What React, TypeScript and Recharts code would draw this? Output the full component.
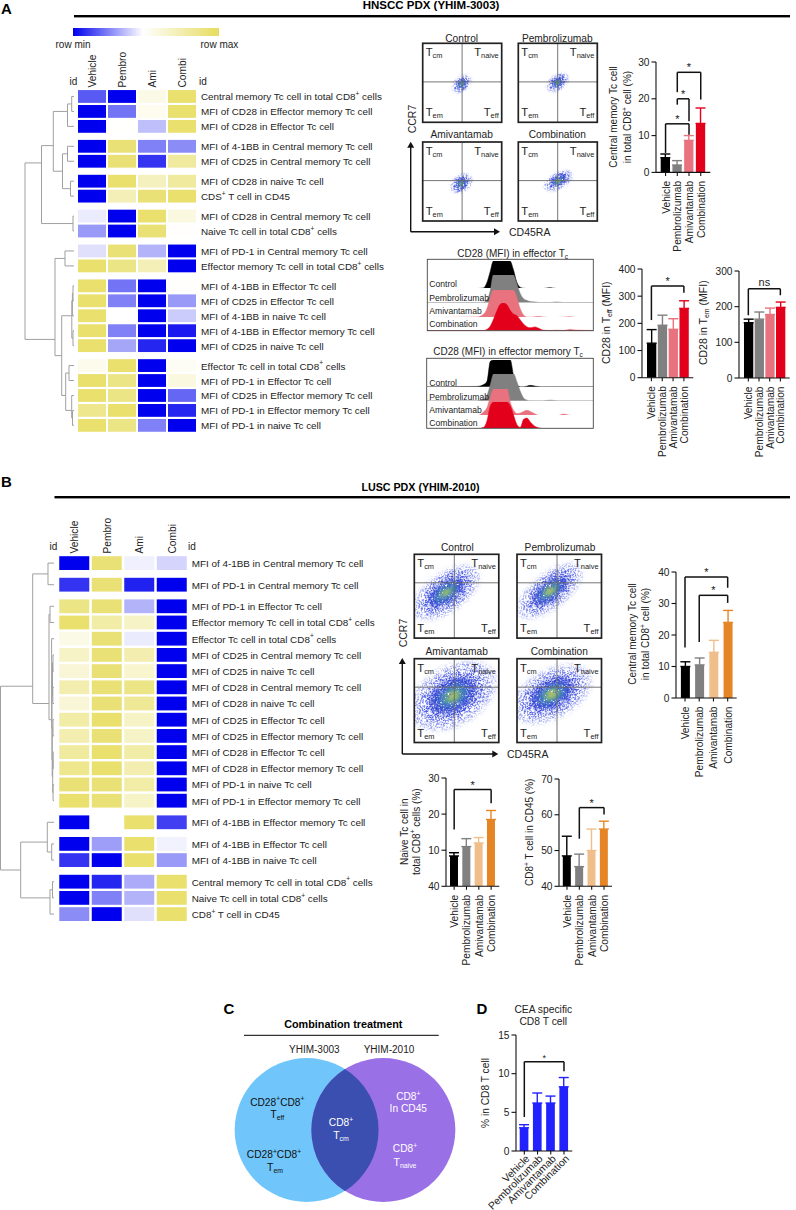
import React from "react"
import {
  Area,
  AreaChart,
  Bar,
  BarChart,
  ErrorBar,
  ReferenceLine,
  Scatter,
  ScatterChart,
  XAxis,
  YAxis,
} from "recharts"

const FONT = "'Liberation Sans', Arial, sans-serif"
const INK = "#222"

// heatmap A
const heatColumns = ["Vehicle", "Pembro", "Ami", "Combi"]
const rowsA = [
  "Central memory Tc cell in total CD8^{+} cells",
  "MFI of CD28 in Effector memory Tc cell",
  "MFI of CD28 in Effector Tc cell",
  "MFI of 4-1BB in Central memory Tc cell",
  "MFI of CD25 in Central memory Tc cell",
  "MFI of CD28 in naive Tc cell",
  "CDS^{+} T cell in CD45",
  "MFI of CD28 in Central memory Tc cell",
  "Naive Tc cell in total CD8^{+} cells",
  "MFI of PD-1 in Central memory Tc cell",
  "Effector memory Tc cell in total CD8^{+} cells",
  "MFI of 4-1BB in Effector Tc cell",
  "MFI of CD25 in Effector Tc cell",
  "MFI of 4-1BB in naive Tc cell",
  "MFI of 4-1BB in Effector memory Tc cell",
  "MFI of CD25 in naive Tc cell",
  "Effector Tc cell in total CD8^{+} cells",
  "MFI of PD-1 in Effector Tc cell",
  "MFI of CD25 in Effector memory Tc cell",
  "MFI of PD-1 in Effector memory Tc cell",
  "MFI of PD-1 in naive Tc cell",
]
const groupSizesA = [3, 2, 2, 2, 2, 5, 5]
const heatA = [
  [-0.65, -1, 0.15, 0.9],
  [-1, -0.55, 0.1, 0.9],
  [-1, 0.01, -0.25, 0.9],
  [-1, 0.85, -0.5, -0.45],
  [-1, 0.85, -0.8, 0.6],
  [-1, 0.9, 0.4, 0.6],
  [-1, 0.45, 0.85, 0.9],
  [-0.08, -1, 0.9, 0.2],
  [-0.4, -1, 0.85, 0.02],
  [-0.12, 0.85, -0.3, -1],
  [0.9, 0.75, 0.45, -1],
  [0.9, -0.55, -1, 0.02],
  [0.9, -0.5, -1, -0.4],
  [0.9, 0, -1, -0.2],
  [0.9, -0.5, -1, -0.9],
  [0.9, -0.35, -0.85, -1],
  [0.12, 0.9, -1, 0.06],
  [0.9, 0.75, -1, 0.2],
  [0.9, 0.75, -1, -0.6],
  [0.7, 0.9, -1, -0.85],
  [0.9, 0.75, -0.5, -1],
]

// heatmap B
const rowsB = [
  "MFI of 4-1BB in Central memory Tc cell",
  "MFI of PD-1 in Central memory Tc cell",
  "MFI of PD-1 in Effector Tc cell",
  "Effector memory Tc cell in total CD8^{+} cells",
  "Effector Tc cell in total CD8^{+} cells",
  "MFI of CD25 in Central memory Tc cell",
  "MFI of CD25 in naive Tc cell",
  "MFI of CD28 in Central memory Tc cell",
  "MFI of CD28 in naive Tc cell",
  "MFI of CD25 in Effector Tc cell",
  "MFI of CD25 in Effector memory Tc cell",
  "MFI of CD28 in Effector Tc cell",
  "MFI of CD28 in Effector memory Tc cell",
  "MFI of PD-1 in naive Tc cell",
  "MFI of PD-1 in Effector memory Tc cell",
  "MFI of 4-1BB in Effector memory Tc cell",
  "MFI of 4-1BB in Effector Tc cell",
  "MFI of 4-1BB in naive Tc cell",
  "Central memory Tc cell in total CD8^{+} cells",
  "Naive Tc cell in total CD8^{+} cells",
  "CD8^{+} T cell in CD45",
]
const groupSizesB = [1, 1, 13, 1, 2, 3]
const heatB = [
  [-1, 0.85, -0.06, -0.17],
  [-0.8, 0.85, -0.87, -1],
  [0.75, 0.85, -0.3, -1],
  [0.9, 0.55, 0.35, -1],
  [0.15, 0.85, -0.08, -1],
  [0.35, 0.85, 0.5, -1],
  [0.25, 0.85, 0.3, -1],
  [0.5, 0.85, 0.75, -1],
  [0.25, 0.85, 0.65, -1],
  [0.55, 0.9, 0.35, -1],
  [0.5, 0.85, 0.35, -1],
  [0.6, 0.9, 0.55, -1],
  [0.7, 0.9, 0.5, -1],
  [0.85, 0.85, 0.55, -1],
  [0.9, 0.85, 0.35, -1],
  [-1, 0, 0.9, -0.75],
  [-1, -0.38, 0.9, -0.05],
  [-0.8, -1, 0.9, -0.4],
  [-1, -0.85, -0.33, 0.9],
  [-1, -0.5, -0.3, 0.9],
  [-0.45, -1, -0.12, 0.9],
]

// dendrograms: [merge distance, left, right], a number is a row
type Tree = number | [number, Tree, Tree]
const treeA: Tree = [
  49,
  [
    32.5,
    [20.7, [6.5, [2.3, 0, 1], 2], [11.5, [6.5, 3, 4], [3.5, 5, 6]]],
    [1, 7, 8],
  ],
  [
    19,
    [9, 9, 10],
    [
      12.3,
      [2.2, [1.6, [1, 11, 12], 13], [1, 14, 15]],
      [8.3, [5, 16, 17], [2.3, 18, [1.5, 19, 20]]],
    ],
  ],
]
const treeB: Tree = [
  53.5,
  [
    21.3,
    [6, 0, 1],
    [
      5,
      [4, 2, 3],
      [
        2.4,
        4,
        [
          2,
          [1.5, [1, 5, 6], [1.2, 7, 8]],
          [1.8, [1, 9, 10], [1.3, [0.8, 11, 12], [0.9, 13, 14]]],
        ],
      ],
    ],
  ],
  [33.3, [6.7, 15, [2.3, 16, 17]], [4, [1.5, 18, 19], 20]],
]

// bar panels
const arms = ["Vehicle", "Pembrolizumab", "Amivantamab", "Combination"]
const tcmA = [4, 2, 8.7, 13.3]
const tcmErrA = [1, 1.2, 1.3, 4.2]
const teffA = [127, 193, 178, 255]
const teffErrA = [50, 37, 39, 28]
const temA = [155, 165, 178, 198]
const temErrA = [10, 20, 18, 15]
const tcmB = [10, 10.5, 14.5, 24]
const tcmErrB = [1.5, 2.2, 3.8, 3.8]
const naiveB = [8.4, 11, 12, 18.5]
const naiveErrB = [0.9, 2.2, 1.5, 2.5]
const naiveTickLabels = ["40", "10", "20", "30"]
const cd8B = [48.5, 45.5, 50, 56]
const cd8ErrB = [5.5, 3.5, 6, 2.2]
const ceaD = [3, 6.2, 6.2, 8.3]
const ceaErrD = [0.4, 1.3, 0.9, 1.2]

type Bracket = { from: number; to: number; top: number; left: number; right: number; mark: string }
const tcmBracketsA: Bracket[] = [
  { from: 0, to: 2, top: 13.2, left: 5.3, right: 10.2, mark: "*" },
  { from: 1, to: 2, top: 20, left: 18.4, right: 13.9, mark: "*" },
  { from: 1, to: 3, top: 27.2, left: 21.8, right: 19.8, mark: "*" },
]
const teffBracketsA: Bracket[] = [{ from: 0, to: 3, top: 337, left: 212, right: 313, mark: "*" }]
const temBracketsA: Bracket[] = [{ from: 0, to: 3, top: 250, left: 176, right: 232, mark: "ns" }]
const tcmBracketsB: Bracket[] = [
  { from: 0, to: 3, top: 38.4, left: 16, right: 35, mark: "*" },
  { from: 1, to: 3, top: 32.6, left: 17.8, right: 30.2, mark: "*" },
]
const naiveBracketsB: Bracket[] = [{ from: 0, to: 3, top: 26.8, left: 15.7, right: 23, mark: "*" }]
const cd8BracketsB: Bracket[] = [{ from: 1, to: 3, top: 62, left: 53.3, right: 60.1, mark: "*" }]
const ceaBracketsD: Bracket[] = [{ from: 0, to: 3, top: 11.55, left: 4.4, right: 10.3, mark: "*" }]

const redSet = ["#000000", "#808080", "#E8737F", "#E2001A"]
const orangeSet = ["#000000", "#808080", "#F0BE8A", "#E58526"]
const blueSet = ["#2222FF", "#2222FF", "#2222FF", "#2222FF"]

// histogram tracks, one height per ridgeX
const ridgeX = [0, 30, 34, 36, 38, 40, 42, 44, 46, 48, 50, 52, 54, 56, 58, 60, 62, 65, 68, 70, 74, 78, 82, 86, 90, 100]
const teffControl = [0, 0, 0.02, 0.2, 0.6, 1, 1, 1, 1, 1, 1, 0.7, 0.25, 0.05, 0.01, 0, 0, 0, 0, 0, 0.03, 0, 0, 0, 0, 0]
const teffPembro = [0, 0, 0.01, 0.08, 0.4, 1, 1, 1, 1, 1, 1, 1, 0.7, 0.35, 0.15, 0.08, 0.04, 0.02, 0, 0, 0, 0.02, 0, 0, 0, 0]
const teffAmi = [0, 0.02, 0.12, 0.3, 0.7, 1, 1, 1, 1, 1, 1, 1, 0.75, 0.35, 0.1, 0.02, 0.01, 0.03, 0.04, 0.02, 0, 0, 0.01, 0.03, 0, 0]
const teffCombi = [0, 0, 0, 0.04, 0.15, 0.4, 0.7, 0.95, 1, 0.95, 0.75, 0.6, 0.55, 0.4, 0.25, 0.14, 0.1, 0.13, 0.06, 0.01, 0, 0.01, 0, 0.03, 0.01, 0]
const temControl = [0, 0.01, 0.08, 0.2, 0.95, 1, 1, 1, 1, 1, 1, 0.4, 0.05, 0, 0, 0.02, 0.05, 0.02, 0, 0, 0, 0, 0, 0, 0, 0]
const temPembro = [0, 0, 0.05, 0.2, 0.6, 1, 1, 1, 1, 1, 1, 1, 0.7, 0.35, 0.1, 0.02, 0, 0, 0, 0, 0.02, 0, 0, 0, 0, 0]
const temAmi = [0, 0, 0.15, 0.3, 0.7, 1, 1, 1, 1, 1, 0.5, 0.2, 0.08, 0.1, 0.16, 0.2, 0.16, 0.06, 0, 0, 0, 0, 0.06, 0.01, 0, 0]
const temCombi = [0, 0, 0.05, 0.3, 0.85, 1, 1, 1, 1, 1, 0.85, 0.5, 0.15, 0.05, 0.35, 0.4, 0.25, 0.08, 0.02, 0, 0, 0, 0, 0, 0, 0]
const ridgeNames = ["Control", "Pembrolizumab", "Amivantamab", "Combination"]

// flow plots: centre of the population on the plot axes, its spread and tilt
const flowA = [
  { name: "Control", x: 0.49, y: 0.48, sx: 0.115, sy: 0.075, tilt: 40, core: 0.55 },
  { name: "Pembrolizumab", x: 0.5, y: 0.5, sx: 0.13, sy: 0.08, tilt: 35, core: 0.55 },
  { name: "Amivantamab", x: 0.485, y: 0.475, sx: 0.125, sy: 0.09, tilt: 35, core: 0.55 },
  { name: "Combination", x: 0.51, y: 0.51, sx: 0.165, sy: 0.085, tilt: 30, core: 1 },
]
const flowB = [
  { name: "Control", x: 0.38, y: 0.54, sx: 0.38, sy: 0.19, tilt: 35, core: 0.7 },
  { name: "Pembrolizumab", x: 0.39, y: 0.56, sx: 0.38, sy: 0.17, tilt: 38, core: 1 },
  { name: "Amivantamab", x: 0.46, y: 0.56, sx: 0.46, sy: 0.29, tilt: 30, core: 0.75 },
  { name: "Combination", x: 0.41, y: 0.58, sx: 0.42, sy: 0.24, tilt: 28, core: 0.9 },
]

const vennSets = [
  { name: "YHIM-3003", x: -1, y: 0 },
  { name: "YHIM-2010", x: 1, y: 0 },
]
const vennShared = [{ name: "shared", x: 0, y: 0 }]

const rowPositions = (sizes: number[]) => {
  const out: number[] = []
  sizes.forEach((size, g) => {
    for (let i = 0; i < size; i++) out.push(out.length + g / 3)
  })
  return out
}

const heatFill = (v: number) => {
  const to = v < 0 ? [0, 0, 238] : [230, 220, 94]
  const k = Math.abs(v)
  return `rgb(${to.map((c) => Math.round(255 + (c - 255) * k)).join(",")})`
}

const richText = (text: string, size: number) => {
  const parts = text.split(/(\^\{[^}]*\}|_\{[^}]*\})/).filter((p) => p !== "")
  let shift = 0
  return parts.map((part, i) => {
    const sup = part.startsWith("^{")
    const sub = part.startsWith("_{")
    const target = sup ? -0.33 * size : sub ? 0.28 * size : 0
    const dy = target - shift
    shift = target
    const body = sup || sub ? part.slice(2, -1) : part
    return (
      <tspan key={i} dy={dy} fontSize={sup || sub ? size * 0.66 : size}>
        {body}
      </tspan>
    )
  })
}

type TProps = {
  x: number
  y: number
  text: string
  size?: number
  anchor?: "start" | "middle" | "end"
  bold?: boolean
  fill?: string
  rotate?: number
}
const T = ({ x, y, text, size = 10, anchor = "start", bold, fill = INK, rotate }: TProps) => (
  <text
    x={x}
    y={y}
    fontSize={size}
    fontWeight={bold ? 700 : 400}
    fill={fill}
    textAnchor={anchor}
    dominantBaseline="central"
    transform={rotate ? `rotate(${rotate} ${x} ${y})` : undefined}
  >
    {richText(text, size)}
  </text>
)

const Place = ({ x, y, children }: { x: number; y: number; children: React.ReactNode }) => (
  <div style={{ position: "absolute", left: x, top: y }}>{children}</div>
)

type HeatProps = {
  left: number
  top: number
  pitchX: number
  pitchY: number
  cellW: number
  cellH: number
  labelW: number
  headH: number
  labelGap: number
  rows: string[]
  sizes: number[]
  values: number[][]
}
const Heatmap = ({ left, top, pitchX, pitchY, cellW, cellH, labelW, headH, labelGap, rows, sizes, values }: HeatProps) => {
  const pos = rowPositions(sizes)
  const last = pos[pos.length - 1]
  const plotH = (last + 1) * pitchY
  const cells = values.flatMap((row, r) => row.map((v, c) => ({ col: c, pos: pos[r], v })))
  return (
    <Place x={left} y={top - headH}>
      <ScatterChart
        width={pitchX * heatColumns.length + labelW}
        height={plotH + headH}
        margin={{ top: 0, right: 0, bottom: 0, left: 0 }}
      >
        <XAxis
          type="number"
          dataKey="col"
          orientation="top"
          domain={[-0.5, 3.5]}
          ticks={[0, 1, 2, 3]}
          height={headH}
          axisLine={false}
          tickLine={false}
          interval={0}
          tick={(p: any) => (
            <T x={p.x} y={headH - 1.5} text={heatColumns[p.payload.value]} size={10.2} rotate={-90} />
          )}
        />
        <YAxis
          type="number"
          dataKey="pos"
          orientation="right"
          reversed
          domain={[-0.5, last + 0.5]}
          ticks={pos}
          interval={0}
          width={labelW}
          axisLine={false}
          tickLine={false}
          tick={(p: any) => (
            <T x={p.x - 5 + labelGap} y={p.y} text={rows[pos.indexOf(p.payload.value)]} size={9.9} />
          )}
        />
        <Scatter
          data={cells}
          isAnimationActive={false}
          shape={(p: any) => (
            <rect
              x={p.cx - cellW / 2}
              y={p.cy - cellH / 2}
              width={cellW}
              height={cellH}
              fill={heatFill(p.payload.v)}
            />
          )}
        />
      </ScatterChart>
    </Place>
  )
}

const treeSegments = (tree: Tree, pos: number[]) => {
  const segments: { x: number; y: number }[][] = []
  const leaves = (t: Tree): number[] => (typeof t === "number" ? [pos[t]] : [...leaves(t[1]), ...leaves(t[2])])
  const mean = (t: Tree) => {
    const l = leaves(t)
    return l.reduce((a, b) => a + b, 0) / l.length
  }
  const height = (t: Tree) => (typeof t === "number" ? 0 : t[0])
  const walk = (t: Tree) => {
    if (typeof t === "number") return
    segments.push([
      { x: height(t[1]), y: mean(t[1]) },
      { x: t[0], y: mean(t[1]) },
      { x: t[0], y: mean(t[2]) },
      { x: height(t[2]), y: mean(t[2]) },
    ])
    walk(t[1])
    walk(t[2])
  }
  walk(tree)
  return segments
}

type DendroProps = { left: number; top: number; width: number; pitchY: number; tree: Tree; sizes: number[] }
const Dendrogram = ({ left, top, width, pitchY, tree, sizes }: DendroProps) => {
  const pos = rowPositions(sizes)
  const last = pos[pos.length - 1]
  return (
    <Place x={left} y={top}>
      <ScatterChart
        width={width}
        height={(last + 1) * pitchY}
        margin={{ top: 0, right: 0, bottom: 0, left: 0 }}
      >
        <XAxis type="number" dataKey="x" domain={[0, width]} reversed hide />
        <YAxis type="number" dataKey="y" domain={[-0.5, last + 0.5]} reversed hide />
        {treeSegments(tree, pos).map((seg, i) => (
          <Scatter
            key={i}
            data={seg}
            line={{ stroke: "#a0a0a0", strokeWidth: 1 }}
            shape={() => <g />}
            isAnimationActive={false}
          />
        ))}
      </ScatterChart>
    </Place>
  )
}

type BarProps = {
  axisX: number
  topY: number
  zeroY: number
  endX: number
  pad: number
  barW: number
  values: number[]
  errors: number[]
  colors: string[]
  domain: [number, number]
  ticks: number[]
  tickLabels?: string[]
  brackets: Bracket[]
  slant?: boolean
  markSize?: number
}
const StatBars = ({ axisX, topY, zeroY, endX, pad, barW, values, errors, colors, domain, ticks, tickLabels, brackets, slant, markSize = 11 }: BarProps) => {
  // whiskers only go up, as in the figure
  const rows = arms.map((name, i) => ({ name, [`v${i}`]: values[i], [`e${i}`]: [0, errors[i]] }))
  const yW = 45
  const headH = 14
  const footH = 85
  return (
    <Place x={axisX - yW} y={topY - headH}>
      <BarChart
        width={endX - axisX + yW + 2}
        height={zeroY - topY + headH + footH}
        data={rows}
        margin={{ top: headH, right: 2, bottom: 0, left: 0 }}
      >
        <XAxis
          dataKey="name"
          height={footH}
          interval={0}
          padding={{ left: pad, right: pad }}
          stroke="#111"
          strokeWidth={1.1}
          tickSize={3.5}
          tickMargin={slant ? 2 : 5}
          tick={(p: any) =>
            slant ? (
              <T x={p.x + 3} y={p.y} text={p.payload.value} size={10.4} anchor="end" rotate={-45} />
            ) : (
              <T x={p.x} y={p.y} text={p.payload.value} size={10.2} anchor="end" rotate={-90} />
            )
          }
        />
        <YAxis
          type="number"
          width={yW}
          domain={domain}
          ticks={ticks}
          interval={0}
          allowDataOverflow
          stroke="#111"
          strokeWidth={1.1}
          tickSize={4.5}
          tickMargin={2}
          tick={{ fontSize: 10.2, fill: INK }}
          tickFormatter={(v: number) => (tickLabels ? tickLabels[ticks.indexOf(v)] : String(v))}
        />
        {arms.map((_, i) => (
          <Bar key={i} dataKey={`v${i}`} stackId="s" fill={colors[i]} barSize={barW} isAnimationActive={false}>
            <ErrorBar dataKey={`e${i}`} direction="y" width={5} stroke={colors[i]} strokeWidth={1.4} isAnimationActive={false} />
          </Bar>
        ))}
        {brackets.flatMap((b, i) => [
          <ReferenceLine
            key={`l${i}`}
            segment={[{ x: arms[b.from], y: b.left }, { x: arms[b.from], y: b.top }]}
            stroke="#111"
            strokeWidth={1.5}
            ifOverflow="visible"
          />,
          <ReferenceLine
            key={`t${i}`}
            segment={[{ x: arms[b.from], y: b.top }, { x: arms[b.to], y: b.top }]}
            stroke="#111"
            strokeWidth={1.5}
            ifOverflow="visible"
            label={{ value: b.mark, position: "top", fontSize: markSize, fill: INK, offset: b.mark === "*" ? 1 : 3 }}
          />,
          <ReferenceLine
            key={`r${i}`}
            segment={[{ x: arms[b.to], y: b.top }, { x: arms[b.to], y: b.right }]}
            stroke="#111"
            strokeWidth={1.5}
            ifOverflow="visible"
          />,
        ])}
      </BarChart>
    </Place>
  )
}

const Ridge = ({ left, right, base, height, values, color }: { left: number; right: number; base: number; height: number; values: number[]; color: string }) => (
  <Place x={left} y={base - height}>
    <AreaChart
      width={right - left}
      height={height}
      data={ridgeX.map((x, i) => ({ x, h: values[i] }))}
      margin={{ top: 0, right: 0, bottom: 0, left: 0 }}
    >
      <XAxis type="number" dataKey="x" domain={[0, 100]} hide />
      <YAxis type="number" domain={[0, 1]} hide />
      <Area type="monotone" dataKey="h" stroke={color} strokeWidth={0.5} fill={color} fillOpacity={1} isAnimationActive={false} />
    </AreaChart>
  </Place>
)

type FlowProps = { x: number; y: number; w: number; h: number; pop: (typeof flowA)[number]; suffix: string }
const FlowPlot = ({ x, y, w, h, pop, suffix }: FlowProps) => (
  <Place x={x} y={y}>
    <ScatterChart width={w} height={h} margin={{ top: 0, right: 0, bottom: 0, left: 0 }}>
      <XAxis type="number" dataKey="x" domain={[0, 1]} hide />
      <YAxis type="number" dataKey="y" domain={[0, 1]} hide />
      <Scatter
        data={[pop]}
        isAnimationActive={false}
        shape={(p: any) => {
          const rx = pop.sx * w
          const ry = pop.sy * h
          const rot = `rotate(${-pop.tilt} ${p.cx} ${p.cy})`
          const layer = (k: number, fill: string, opacity: number, filter: string) => (
            <ellipse
              cx={p.cx}
              cy={p.cy}
              rx={rx * k}
              ry={ry * k}
              fill={fill}
              opacity={opacity}
              transform={rot}
              filter={`url(#${filter}${suffix})`}
            />
          )
          return (
            <g>
              {layer(1.2, "#6070E8", 0.8, "haze")}
              {layer(0.9, "#2F3EDC", 0.9, "haze")}
              {layer(0.65, "#2A3CD0", 0.9, "dense")}
              {layer(0.42, "#3C8CB4", 0.85, "dense")}
              {layer(0.26 * (0.6 + 0.4 * pop.core), "#7DBE70", 0.9, "dense")}
              {layer(0.13 * pop.core, "#D8D64A", 0.9, "soft")}
            </g>
          )
        }}
      />
    </ScatterChart>
  </Place>
)

const FlowFrame = ({ x, y, w, h, crossX, crossY, title, titleY, titleX }: { x: number; y: number; w: number; h: number; crossX: number; crossY: number; title: string; titleY: number; titleX: number }) => (
  <g>
    <line x1={x + crossX} x2={x + crossX} y1={y} y2={y + h} stroke="#666" strokeWidth={0.9} />
    <line x1={x} x2={x + w} y1={y + crossY} y2={y + crossY} stroke="#666" strokeWidth={0.9} />
    <rect x={x} y={y} width={w} height={h} fill="none" stroke="#222" strokeWidth={1.7} />
    <T x={titleX} y={titleY} text={title} size={10.2} anchor="middle" />
    <T x={x + 3} y={y + 9} text="T_{cm}" size={11.2} />
    <T x={x + w - 3} y={y + 9} text="T_{naive}" size={11.2} anchor="end" />
    <T x={x + 3} y={y + h - 10} text="T_{em}" size={11.2} />
    <T x={x + w - 3} y={y + h - 10} text="T_{eff}" size={11.2} anchor="end" />
  </g>
)

const Arrows = ({ x, y, top, right }: { x: number; y: number; top: number; right: number }) => (
  <g stroke="#111" strokeWidth={1.4} fill="#111">
    <line x1={x} x2={x} y1={y} y2={top + 5} />
    <line x1={x} x2={right - 5} y1={y} y2={y} />
    <polygon points={`${x - 3.5},${top + 6} ${x + 3.5},${top + 6} ${x},${top}`} stroke="none" />
    <polygon points={`${right - 6},${y - 3.5} ${right - 6},${y + 3.5} ${right},${y}`} stroke="none" />
  </g>
)

// grain texture for the flow populations
const speckleFilter = (id: string, blur: number, seed: number, gain: number, cut: number) => (
  <filter id={id} x="-60%" y="-60%" width="220%" height="220%">
    <feGaussianBlur in="SourceGraphic" stdDeviation={blur} result="b" />
    <feTurbulence type="fractalNoise" baseFrequency="0.9" numOctaves="2" seed={seed} result="n" />
    <feColorMatrix in="n" type="matrix" values={`0 0 0 0 0 0 0 0 0 0 0 0 0 0 0 ${gain} 0 0 0 ${cut}`} result="m" />
    <feComposite in="b" in2="m" operator="in" />
  </filter>
)

const App = () => {
  const flowSpotsA = [
    { x: 422.7, y: 43.3 },
    { x: 518.3, y: 43.3 },
    { x: 422.7, y: 142 },
    { x: 518.3, y: 142 },
  ]
  const flowSpotsB = [
    { x: 414.3, y: 554.3 },
    { x: 517, y: 554.3 },
    { x: 414.3, y: 658.7 },
    { x: 517, y: 658.7 },
  ]
  const titleSpotsB = [
    [457.3, 546.7],
    [560, 546.7],
    [456.7, 651],
    [559.3, 651],
  ]
  const ridgeColors = redSet
  const ridges1 = [teffControl, teffPembro, teffAmi, teffCombi]
  const ridges2 = [temControl, temPembro, temAmi, temCombi]
  const bases1 = [288.3, 302.7, 317.3, 330.7]
  const bases2 = [386.7, 401, 415.3, 428.3]
  const labelY1 = [284, 297.7, 311, 324.3]
  const labelY2 = [382.7, 396.7, 410, 423]

  return (
    <div style={{ position: "absolute", left: 0, top: 0, width: 796, height: 1210, background: "#fff", fontFamily: FONT, overflow: "hidden" }}>
      <svg width={0} height={0} style={{ position: "absolute" }}>
        <defs>
          {speckleFilter("hazeS", 1.1, 4, 10, -5)}
          {speckleFilter("denseS", 0.9, 7, 8, -3)}
          {speckleFilter("hazeL", 2.4, 9, 10, -5)}
          {speckleFilter("denseL", 2, 5, 8, -3)}
          <filter id="softS" x="-60%" y="-60%" width="220%" height="220%">
            <feGaussianBlur stdDeviation="0.8" />
          </filter>
          <filter id="softL" x="-60%" y="-60%" width="220%" height="220%">
            <feGaussianBlur stdDeviation="2" />
          </filter>
        </defs>
      </svg>

      <Dendrogram left={24} top={88.5} width={50} pitchY={14.95} tree={treeA} sizes={groupSizesA} />
      <Heatmap left={77.2} top={88.5} pitchX={30} pitchY={14.95} cellW={28} cellH={12.8} labelW={220} headH={40} labelGap={1} rows={rowsA} sizes={groupSizesA} values={heatA} />

      <Dendrogram left={0} top={554.9} width={54} pitchY={16.2} tree={treeB} sizes={groupSizesB} />
      <Heatmap left={57.7} top={554.9} pitchX={32.5} pitchY={16.2} cellW={30} cellH={13.8} labelW={220} headH={45} labelGap={0.7} rows={rowsB} sizes={groupSizesB} values={heatB} />

      {flowA.map((pop, i) => (
        <FlowPlot key={pop.name} x={flowSpotsA[i].x} y={flowSpotsA[i].y} w={79} h={79} pop={pop} suffix="S" />
      ))}
      {flowB.map((pop, i) => (
        <FlowPlot key={pop.name} x={flowSpotsB[i].x} y={flowSpotsB[i].y} w={84.5} h={83.8} pop={pop} suffix="L" />
      ))}

      {ridges1.map((values, i) => (
        <Ridge key={i} left={427.3} right={593.3} base={bases1[i]} height={27.5} values={values} color={ridgeColors[i]} />
      ))}
      {ridges2.map((values, i) => (
        <Ridge key={i} left={426.7} right={593.3} base={bases2[i]} height={26.7} values={values} color={ridgeColors[i]} />
      ))}

      <StatBars axisX={655.7} topY={62.3} zeroY={172.7} endX={710} pad={3.7} barW={9.3} values={tcmA} errors={tcmErrA} colors={redSet} domain={[0, 30]} ticks={[0, 10, 20, 30]} brackets={tcmBracketsA} />
      <StatBars axisX={641.7} topY={269} zeroY={377.7} endX={693} pad={4} barW={9.3} values={teffA} errors={teffErrA} colors={redSet} domain={[0, 400]} ticks={[0, 100, 200, 300, 400]} brackets={teffBracketsA} />
      <StatBars axisX={739.3} topY={270.7} zeroY={377.7} endX={790} pad={4} barW={9.3} values={temA} errors={temErrA} colors={redSet} domain={[0, 300]} ticks={[0, 100, 200, 300]} brackets={temBracketsA} />
      <StatBars axisX={676} topY={571.7} zeroY={697.7} endX={736.7} pad={1.9} barW={9} values={tcmB} errors={tcmErrB} colors={orangeSet} domain={[0, 40]} ticks={[0, 10, 20, 30, 40]} brackets={tcmBracketsB} />
      <StatBars axisX={445.7} topY={777.7} zeroY={886} endX={499} pad={2} barW={8} values={naiveB} errors={naiveErrB} colors={orangeSet} domain={[0, 30]} ticks={[0, 10, 20, 30]} tickLabels={naiveTickLabels} brackets={naiveBracketsB} />
      <StatBars axisX={559.3} topY={778.7} zeroY={886} endX={612.3} pad={1.8} barW={8} values={cd8B} errors={cd8ErrB} colors={orangeSet} domain={[40, 70]} ticks={[40, 50, 60, 70]} brackets={cd8BracketsB} />
      <StatBars axisX={516} topY={1035} zeroY={1151} endX={572.3} pad={1.7} barW={8.7} values={ceaD} errors={ceaErrD} colors={blueSet} domain={[0, 15]} ticks={[0, 5, 10, 15]} brackets={ceaBracketsD} slant markSize={9} />

      <Place x={229.6} y={1054.5}>
        <ScatterChart width={230} height={150} margin={{ top: 0, right: 0, bottom: 0, left: 0 }}>
          <XAxis type="number" dataKey="x" domain={[-3, 3]} hide />
          <YAxis type="number" dataKey="y" domain={[-1, 1]} hide />
          <Scatter data={[vennSets[0]]} isAnimationActive={false} shape={(p: any) => <circle cx={p.cx} cy={p.cy} r={72} fill="#70C6FB" />} />
          <Scatter data={[vennSets[1]]} isAnimationActive={false} shape={(p: any) => <circle cx={p.cx} cy={p.cy} r={72} fill="#9A70E6" />} />
          <Scatter
            data={vennShared}
            isAnimationActive={false}
            shape={(p: any) => (
              <path
                d={`M${p.cx} ${p.cy - 60.9} A72 72 0 0 1 ${p.cx} ${p.cy + 60.9} A72 72 0 0 1 ${p.cx} ${p.cy - 60.9} Z`}
                fill="#3A4FB0"
              />
            )}
          />
        </ScatterChart>
      </Place>

      {/* text and rules on top of the charts */}
      <svg width={796} height={1210} style={{ position: "absolute", left: 0, top: 0, pointerEvents: "none" }}>
        <defs>
          <linearGradient id="rowScale">
            <stop offset="0" stopColor="#0000EE" />
            <stop offset="0.48" stopColor="#FFFFFF" />
            <stop offset="1" stopColor="#E6DC5E" />
          </linearGradient>
        </defs>
        <T x={1} y={8} text="A" size={15} bold fill="#000" />
        <T x={431} y={5} text="HNSCC PDX (YHIM-3003)" size={11.5} bold anchor="middle" fill="#000" />
        <rect x={74} y={15} width={716} height={2.4} fill="#000" />
        <rect x={73} y={28} width={146} height={8} fill="url(#rowScale)" />
        <T x={55.5} y={44} text="row min" size={10} />
        <T x={200.5} y={44} text="row max" size={10} />
        <T x={69.5} y={80.5} text="id" size={10} />
        <T x={199} y={80.5} text="id" size={10} />

        {flowA.map((pop, i) => (
          <FlowFrame key={pop.name} x={flowSpotsA[i].x} y={flowSpotsA[i].y} w={79} h={79} crossX={39.4} crossY={38.6} title={pop.name} titleX={flowSpotsA[i].x + 39} titleY={flowSpotsA[i].y - (i < 2 ? 5.6 : 7.7)} />
        ))}
        <Arrows x={410.7} y={231.7} top={141.7} right={500} />
        <T x={411.7} y={119} text="CCR7" size={10.5} anchor="middle" rotate={-90} />
        <T x={509} y={232} text="CD45RA" size={10.5} />

        <T x={512.7} y={253.3} text="CD28 (MFI) in effector T_{c}" size={10} anchor="middle" />
        <rect x={427.3} y={259.3} width={166} height={71.4} fill="none" stroke="#444" strokeWidth={0.9} />
        <T x={508} y={351} text="CD28 (MFI) in effector memory T_{c}" size={10} anchor="middle" />
        <rect x={426.7} y={358.3} width={166.6} height={70} fill="none" stroke="#444" strokeWidth={0.9} />
        {ridgeNames.map((name, i) => (
          <T key={name} x={429.3} y={labelY1[i]} text={name} size={8.6} />
        ))}
        {ridgeNames.map((name, i) => (
          <T key={name} x={429.3} y={labelY2[i]} text={name} size={8.6} />
        ))}

        <T x={613} y={117} text="Central memory Tc cell" size={10} anchor="middle" rotate={-90} />
        <T x={627} y={117} text="in total CD8^{+} cell (%)" size={10} anchor="middle" rotate={-90} />
        <T x={606} y={322.7} text="CD28 in T_{eff} (MFI)" size={10.5} anchor="middle" rotate={-90} />
        <T x={703.3} y={322.7} text="CD28 in T_{em} (MFI)" size={10.5} anchor="middle" rotate={-90} />

        <T x={1} y={481} text="B" size={15} bold fill="#000" />
        <T x={420.5} y={487} text="LUSC PDX (YHIM-2010)" size={10.7} bold anchor="middle" fill="#000" />
        <rect x={54.5} y={496} width={735.5} height={2.4} fill="#000" />
        <T x={49.5} y={546} text="id" size={10} />
        <T x={188} y={546} text="id" size={10} />

        {flowB.map((pop, i) => (
          <FlowFrame key={pop.name} x={flowSpotsB[i].x} y={flowSpotsB[i].y} w={84.5} h={83.8} crossX={40} crossY={28.5} title={pop.name} titleX={titleSpotsB[i][0]} titleY={titleSpotsB[i][1]} />
        ))}
        <Arrows x={402.3} y={754} top={658} right={498.3} />
        <T x={402.7} y={633} text="CCR7" size={10.5} anchor="middle" rotate={-90} />
        <T x={507} y={754} text="CD45RA" size={10.5} />

        <T x={632.3} y={634} text="Central memory Tc cell" size={10} anchor="middle" rotate={-90} />
        <T x={645} y={634} text="in total CD8^{+} cell (%)" size={10} anchor="middle" rotate={-90} />
        <T x={404} y={831.7} text="Naive Tc cell in" size={10} anchor="middle" rotate={-90} />
        <T x={415.7} y={831.7} text="total CD8^{+} cells (%)" size={10} anchor="middle" rotate={-90} />
        <T x={529.3} y={832.3} text="CD8^{+} T cell in CD45 (%)" size={10} anchor="middle" rotate={-90} />

        <T x={223.5} y={1008} text="C" size={15} bold fill="#000" />
        <T x={343.3} y={1024} text="Combination treatment" size={10.8} bold anchor="middle" fill="#000" />
        <rect x={244} y={1034.8} width={194.7} height={1} fill="#000" />
        <T x={314.3} y={1048.7} text="YHIM-3003" size={10} anchor="middle" />
        <T x={389} y={1048.7} text="YHIM-2010" size={10} anchor="middle" />
        <T x={277.3} y={1101.7} text="CD28^{+}CD8^{+}" size={10.2} anchor="middle" fill="#111" />
        <T x={277.3} y={1114} text="T_{eff}" size={10.5} anchor="middle" fill="#111" />
        <T x={274} y={1154} text="CD28^{+}CD8^{+}" size={10.2} anchor="middle" fill="#111" />
        <T x={275} y={1166.7} text="T_{em}" size={10.5} anchor="middle" fill="#111" />
        <T x={341} y={1122.3} text="CD8^{+}" size={10.2} anchor="middle" fill="#fff" />
        <T x={341} y={1135} text="T_{cm}" size={10.5} anchor="middle" fill="#fff" />
        <T x={408.3} y={1096} text="CD8^{+}" size={10.2} anchor="middle" fill="#fff" />
        <T x={408.3} y={1107.7} text="In CD45" size={10.2} anchor="middle" fill="#fff" />
        <T x={405} y={1148.3} text="CD8^{+}" size={10.2} anchor="middle" fill="#fff" />
        <T x={405} y={1161.7} text="T_{naive}" size={10.5} anchor="middle" fill="#fff" />

        <T x={476.5} y={1008} text="D" size={15} bold fill="#000" />
        <T x={543.3} y={1009} text="CEA specific" size={10.3} anchor="middle" />
        <T x={543.3} y={1021} text="CD8 T cell" size={10.3} anchor="middle" />
        <T x={485} y={1093} text="% in CD8 T cell" size={10.2} anchor="middle" rotate={-90} />
      </svg>
    </div>
  )
}

export default App
